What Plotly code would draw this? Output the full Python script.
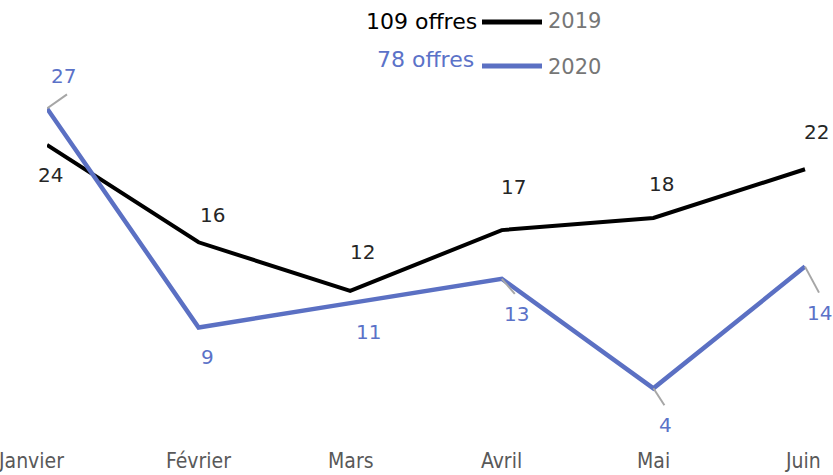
import plotly.graph_objects as go

months = ["Janvier", "Février", "Mars", "Avril", "Mai", "Juin"]
v2019 = [24, 16, 12, 17, 18, 22]
v2020 = [27, 9, 11, 13, 4, 14]
series_names = ["2019", "2020"]
totals = ["109 offres", "78 offres"]

W, H = 833, 475
X0, X1 = 47, 805      # pixel of first / last category
YB = 437              # plot bottom pixel (value 0)
PX_PER_UNIT = 12.17
YMAX = YB / PX_PER_UNIT
XMAX = (len(months) - 1) * (W - X0) / (X1 - X0)   # extend plot area to right edge

BLACK = "#000000"
BLUE = "#5B70C3"
LBL_BLACK = "#262626"
LBL_BLUE = "#5B72C8"
GRAY = "#A6A6A6"
NUMFONT = "DejaVu Sans"

fig = go.Figure()
fig.add_trace(go.Scatter(x=months, y=v2019, mode="lines", line=dict(color=BLACK, width=4),
                         showlegend=False, hoverinfo="skip", cliponaxis=False))
fig.add_trace(go.Scatter(x=months, y=v2020, mode="lines", line=dict(color=BLUE, width=4.5),
                         showlegend=False, hoverinfo="skip", cliponaxis=False))

def px(xp):
    return xp / W

def py(yp):
    return 1 - yp / H

ann = []
off2019 = [(3, -30), (14, 27), (12, 39), (12, 43), (8, 34), (11, 37)]
for i, (m, v) in enumerate(zip(months, v2019)):
    dx, dy = off2019[i]
    ann.append(dict(x=m, y=v, xref="x", yref="y", text=str(v), showarrow=False,
                    xshift=dx, yshift=dy, font=dict(family=NUMFONT, size=20, color=LBL_BLACK)))
off2020 = [(16, 32), (9, -30), (18, -29), (15, -35), (12, -37), (14, -46)]
for i, (m, v) in enumerate(zip(months, v2020)):
    dx, dy = off2020[i]
    ann.append(dict(x=m, y=v, xref="x", yref="y", text=str(v), showarrow=False,
                    xshift=dx, yshift=dy, font=dict(family=NUMFONT, size=20, color=LBL_BLUE)))

cat_shift = [-16, 0, 1, 0, 0, -2]
for i, m in enumerate(months):
    ann.append(dict(x=m, y=0, xref="x", yref="paper", text=m, showarrow=False,
                    xshift=cat_shift[i], yanchor="bottom",
                    font=dict(family="DejaVu Sans Condensed, Liberation Sans Narrow",
                              size=21, color="#595959")))

ann.append(dict(x=px(479), y=py(22), xref="paper", yref="paper", text=totals[0], showarrow=False,
                xanchor="right", yanchor="middle", font=dict(family=NUMFONT, size=22, color=BLACK)))
ann.append(dict(x=px(476), y=py(60), xref="paper", yref="paper", text=totals[1], showarrow=False,
                xanchor="right", yanchor="middle", font=dict(family=NUMFONT, size=22, color=LBL_BLUE)))
ann.append(dict(x=px(546), y=py(21), xref="paper", yref="paper", text=series_names[0], showarrow=False,
                xanchor="left", yanchor="middle", font=dict(family=NUMFONT, size=21, color="#767676")))
ann.append(dict(x=px(546), y=py(67), xref="paper", yref="paper", text=series_names[1], showarrow=False,
                xanchor="left", yanchor="middle", font=dict(family=NUMFONT, size=21, color="#767676")))

shapes = [
    dict(type="line", xref="paper", yref="paper", x0=px(482), x1=px(542), y0=py(22), y1=py(22),
         line=dict(color=BLACK, width=5)),
    dict(type="line", xref="paper", yref="paper", x0=px(482), x1=px(542), y0=py(66), y1=py(66),
         line=dict(color=BLUE, width=5)),
]
leaders = [(0, 20, -14), (3, 13, 15), (4, 11, 17), (5, 14, 26)]
for i, dx, dy in leaders:
    shapes.append(dict(type="line", xref="x", yref="y", xsizemode="pixel", ysizemode="pixel",
                       xanchor=months[i], yanchor=v2020[i], x0=0, y0=0, x1=dx, y1=-dy,
                       line=dict(color=GRAY, width=2), layer="above"))

fig.update_layout(
    width=W, height=H, margin=dict(l=0, r=0, t=0, b=0),
    paper_bgcolor="white", plot_bgcolor="white",
    xaxis=dict(domain=[X0 / W, 1], range=[0, XMAX], showgrid=False, zeroline=False,
               showticklabels=False, showline=False, fixedrange=True),
    yaxis=dict(domain=[(H - YB) / H, 1], range=[0, YMAX], showgrid=False, zeroline=False,
               showticklabels=False, showline=False),
    annotations=ann, shapes=shapes,
)
fig.write_html("out.html", config={"displayModeBar": False},
               post_script="document.body.style.margin='0';document.body.style.overflow='hidden';")
